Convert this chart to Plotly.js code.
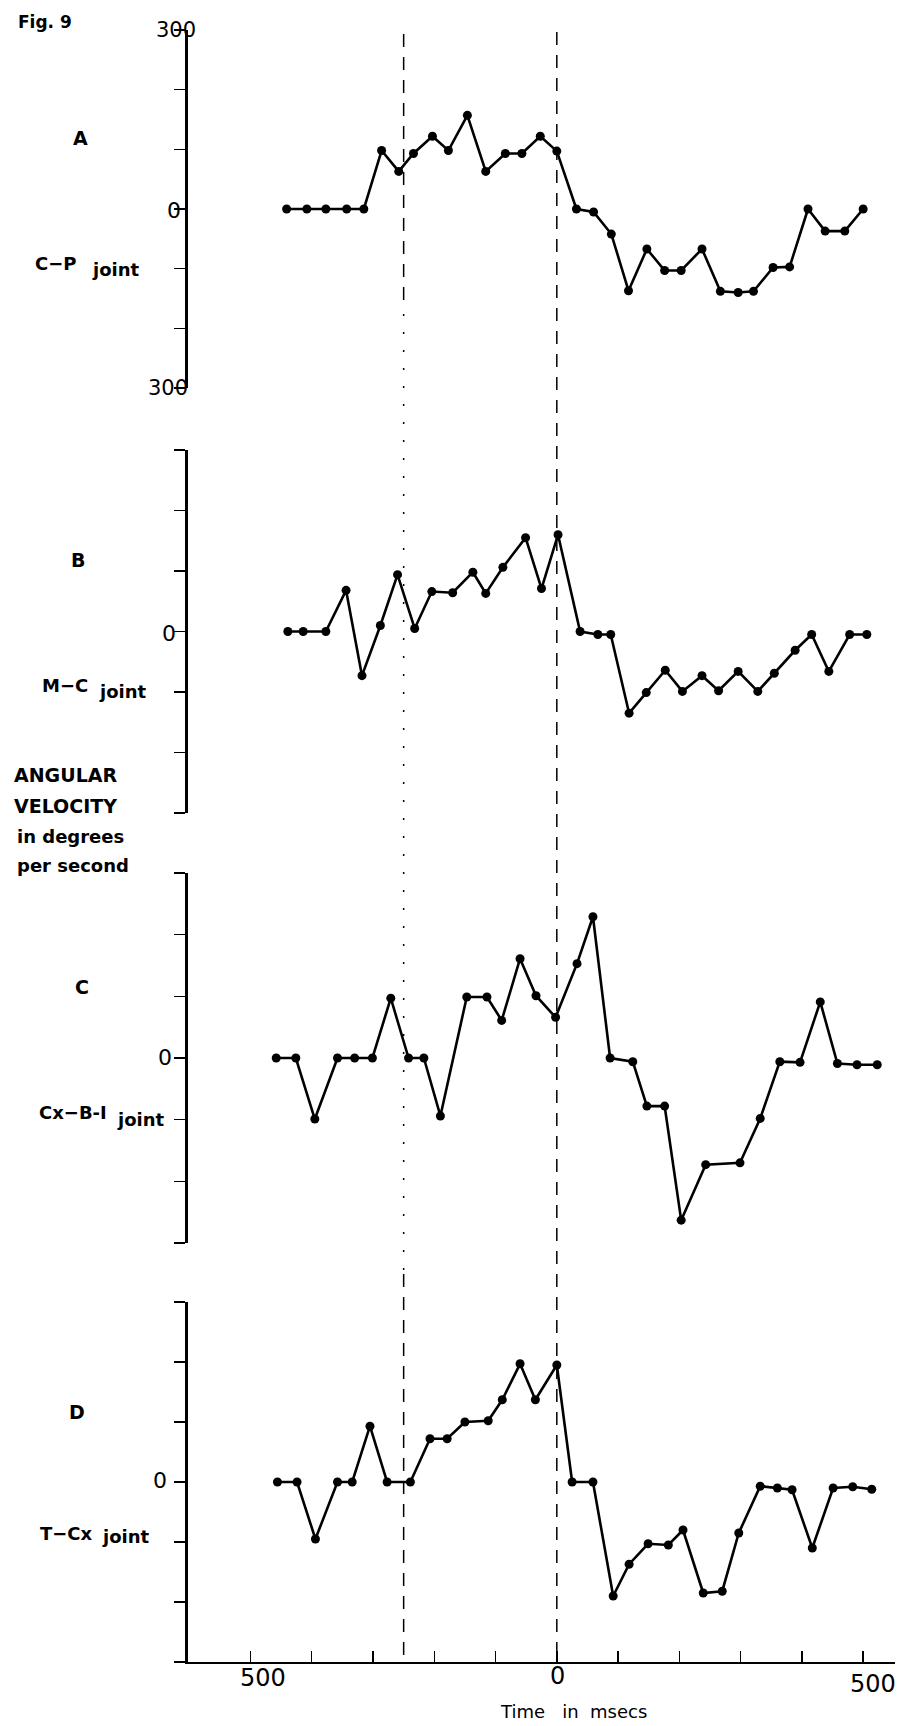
<!DOCTYPE html>
<html>
<head>
<meta charset="utf-8">
<script src="https://cdn.plot.ly/plotly-3.0.1.min.js"></script>
<style>
  html, body { margin: 0; padding: 0; background: #ffffff; }
  #chart { width: 905px; height: 1726px; }
</style>
</head>
<body>
<div id="chart"></div>
<script>
// ---- Data (time in ms, angular velocity in degrees per second) ----
const timeA = [-441, -408, -377, -343, -315, -286, -258, -234, -203, -177, -146, -116, -84, -57, -27, 0, 32, 60, 89, 117, 147, 176, 203, 237, 267, 296, 321, 353, 380, 410, 438, 470, 500];
const velA  = [0, 0, 0, 0, 0, 98, 63, 93, 122, 98, 157, 63, 93, 93, 122, 97, 0, -5, -42, -137, -67, -103, -103, -67, -138, -140, -138, -98, -97, 0, -37, -37, 0];

const timeB = [-439, -414, -377, -344, -318, -288, -260, -232, -204, -170, -137, -116, -88, -51, -25, 2, 38, 67, 88, 118, 146, 177, 205, 237, 264, 296, 328, 355, 389, 416, 444, 478, 506];
const velB  = [0, 0, 0, 68, -73, 10, 94, 5, 66, 64, 98, 63, 106, 155, 71, 160, 0, -5, -5, -135, -101, -64, -99, -73, -98, -66, -99, -69, -31, -5, -66, -5, -5];

const timeC = [-458, -426, -395, -358, -330, -301, -271, -242, -217, -190, -147, -114, -90, -60, -34, -2, 33, 59, 87, 124, 147, 176, 203, 243, 299, 332, 364, 397, 430, 458, 490, 523];
const velC  = [0, 0, -99, 0, 0, 0, 97, 0, 0, -94, 99, 99, 61, 161, 101, 66, 153, 229, 0, -6, -78, -78, -263, -173, -170, -98, -6, -7, 91, -9, -11, -11];

const timeD = [-456, -424, -394, -358, -334, -305, -277, -239, -207, -179, -150, -112, -89, -60, -35, 0, 25, 59, 92, 118, 149, 182, 206, 239, 270, 297, 332, 360, 384, 417, 451, 483, 514];
const velD  = [0, 0, -95, 0, 0, 93, 0, 0, 72, 72, 100, 102, 137, 197, 137, 195, 0, 0, -190, -137, -103, -105, -80, -185, -182, -85, -7, -10, -13, -110, -10, -8, -12];

const panelLetters = ["A", "B", "C", "D"];
const jointNames   = ["C\u2212P", "M\u2212C", "Cx\u2212B-I", "T\u2212Cx"];
const xTickVals    = [-500, -400, -300, -200, -100, 0, 100, 200, 300, 400, 500];
const xTickLabels  = ["500", "0", "500"];
const yTickVals    = [-300, -200, -100, 0, 100, 200, 300];
const yScaleLabels = ["300", "300"];
const eventTimes   = [-250, 0];

// ---- Layout helpers (pixel -> paper) ----
const W = 905, H = 1726;
const M = {l: 188, r: 10, t: 30, b: 64};
const PW = W - M.l - M.r, PH = H - M.t - M.b;
const px = x => (x - M.l) / PW;
const py = y => (H - M.b - y) / PH;
const FAM = "'DejaVu Sans', 'Liberation Sans', sans-serif";

const series = [[timeA, velA], [timeB, velB], [timeC, velC], [timeD, velD]];
const yNames = ["y", "y2", "y3", "y4"];
const traces = series.map((s, i) => ({
  x: s[0], y: s[1], xaxis: "x", yaxis: yNames[i],
  type: "scatter", mode: "lines+markers",
  line: {color: "#000", width: 2.6},
  marker: {color: "#000", size: 9},
  showlegend: false, hoverinfo: "skip"
}));

// panel pixel extents (top, bottom)
const panelPx = [[30, 388], [450, 813], [873, 1243], [1302, 1662]];

const yAxisBase = {
  range: [-300, 300], anchor: "x", showgrid: false, zeroline: false,
  showline: true, linecolor: "#000", linewidth: 2.6,
  ticks: "outside", ticklen: 11, tickwidth: 1.4, tickcolor: "#000",
  tickvals: yTickVals, showticklabels: false, fixedrange: true
};

const layout = {
  width: W, height: H,
  margin: M,
  paper_bgcolor: "#fff", plot_bgcolor: "#fff",
  font: {family: FAM, color: "#000"},
  showlegend: false,
  xaxis: {
    range: [-602, 552], anchor: "y4", showgrid: false, zeroline: false,
    showline: true, linecolor: "#000", linewidth: 2,
    ticks: "inside", ticklen: 11, tickwidth: 1.4, tickcolor: "#000",
    tickvals: xTickVals, showticklabels: false, fixedrange: true
  },
  shapes: [],
  annotations: []
};
yNames.forEach((n, i) => {
  const key = i === 0 ? "yaxis" : "yaxis" + (i + 1);
  layout[key] = Object.assign({}, yAxisBase, {
    domain: [py(panelPx[i][1]), py(panelPx[i][0])]
  });
});

// event lines (dashed; the -250 line becomes dotted through the middle panels)
const dashed = {color: "#000", width: 1.5, dash: "13px,10px"};
const dotted = {color: "#000", width: 1.5, dash: "2px,16px"};
layout.shapes.push(
  {type: "line", xref: "x", yref: "paper", x0: eventTimes[0], x1: eventTimes[0], y0: py(300), y1: py(32), line: dashed},
  {type: "line", xref: "x", yref: "paper", x0: eventTimes[0], x1: eventTimes[0], y0: py(1270), y1: py(300), line: dotted},
  {type: "line", xref: "x", yref: "paper", x0: eventTimes[0], x1: eventTimes[0], y0: py(1655), y1: py(1270), line: dashed},
  {type: "line", xref: "x", yref: "paper", x0: eventTimes[1], x1: eventTimes[1], y0: py(1655), y1: py(32), line: dashed}
);

function ann(text, x, y, size, weight, opts) {
  layout.annotations.push(Object.assign({
    text: text, xref: "paper", yref: "paper", x: px(x), y: py(y),
    xanchor: "center", yanchor: "middle", showarrow: false,
    font: {size: size, color: "#000", family: FAM, weight: weight}
  }, opts || {}));
}

ann("Fig. 9", 45, 22, 17, 700);
// panel A scale labels
ann(yScaleLabels[0], 198, 30, 21, 400, {xanchor: "right"});
ann(yScaleLabels[1], 190, 388, 21, 400, {xanchor: "right"});
// zero labels
const zeroPos = [[183, 210], [178, 633], [174, 1057], [169, 1480]];
zeroPos.forEach(p => ann("0", p[0], p[1], 22, 400, {xanchor: "right"}));

// panel letters and joint names
const letterPos = [[80, 138], [78, 560], [82, 987], [77, 1412]];
const jointPos  = [[33, 263, 90, 269], [40, 685, 97, 691], [37, 1112, 115, 1119], [38, 1533, 100, 1536]];
panelLetters.forEach((t, i) => ann(t, letterPos[i][0], letterPos[i][1], 19, 700));
jointNames.forEach((t, i) => {
  const j = jointPos[i];
  ann(t, j[0], j[1], 18, 700, {xanchor: "left"});
  ann("joint", j[2], j[3], 18, 700, {xanchor: "left"});
});

// y-axis title block
ann("ANGULAR", 12, 775, 19, 700, {xanchor: "left"});
ann("VELOCITY", 12, 806, 19, 700, {xanchor: "left"});
ann("in degrees", 15, 836, 18, 700, {xanchor: "left"});
ann("per second", 15, 866, 18, 700, {xanchor: "left"});

// x labels
const xLabPos = [[263, 1678], [557, 1676], [873, 1684]];
xTickLabels.forEach((t, i) => ann(t, xLabPos[i][0], xLabPos[i][1], 24, 400));
ann("Time&nbsp;&nbsp;&nbsp;in&nbsp;&nbsp;msecs", 573, 1712, 18, 400);

Plotly.newPlot("chart", traces, layout, {displayModeBar: false, staticPlot: true});
</script>
</body>
</html>
